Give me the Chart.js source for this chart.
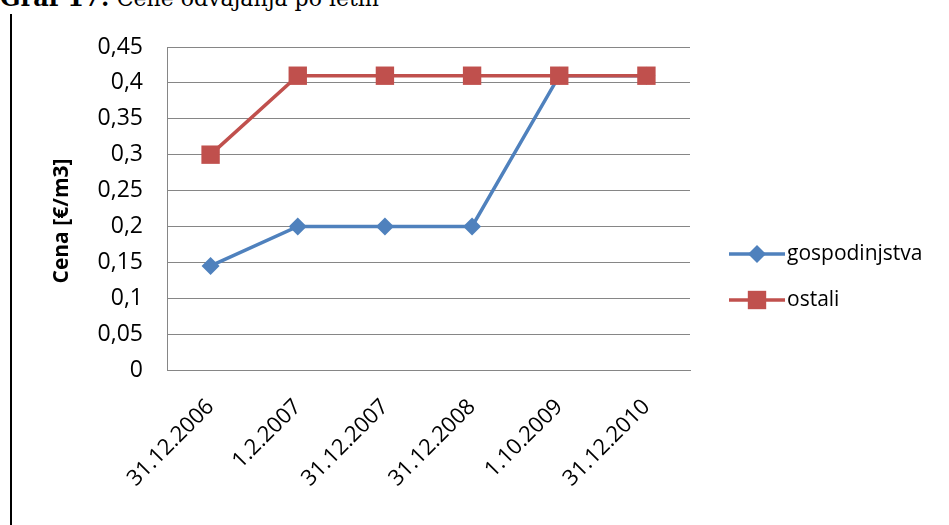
<!DOCTYPE html>
<html>
<head>
<meta charset="utf-8">
<script src="https://cdn.jsdelivr.net/npm/chart.js@4/dist/chart.umd.min.js"></script>
<style>
    html, body { margin: 0; padding: 0; background: #fff; }
    body { width: 949px; height: 525px; position: relative; overflow: hidden; }
    #caption {
        position: absolute; left: 0; top: -17px;
        font-family: "DejaVu Serif", "Liberation Serif", serif;
        font-size: 22px; color: #000; white-space: nowrap;
    }
    #caption b { font-size: 24px; }
    #frame { position: absolute; left: 10px; top: 14px; width: 2px; height: 511px; background: #000; }
    #wrap { position: absolute; left: 0; top: 0; width: 949px; height: 525px; }
</style>
</head>
<body>
<div id="caption"><b>Graf 17:</b> Cene odvajanja po letih</div>
<div id="frame"></div>
<div id="wrap"><canvas id="priceChart"></canvas></div>
<script>
// data
const categories = ['31.12.2006', '1.2.2007', '31.12.2007', '31.12.2008', '1.10.2009', '31.12.2010'];
const gospodinjstva = [0.145, 0.2, 0.2, 0.2, 0.41, 0.41];
const ostali = [0.3, 0.41, 0.41, 0.41, 0.41, 0.41];
const seriesNames = ['gospodinjstva', 'ostali'];
const yTicks = [0, 0.05, 0.1, 0.15, 0.2, 0.25, 0.3, 0.35, 0.4, 0.45];
const yTitle = 'Cena [€/m3]';

const BLUE = '#4F81BD';
const RED = '#C0504D';
const GRID = '#868686';
const FONT = '"Open Sans", sans-serif';

// legend drawn by hand: line with marker in the middle, like the office chart
// the axis title is drawn here too, it sits a bit below the plot's middle
const sideLegend = {
    id: 'sideLegend',
    afterDraw(chart) {
        const ctx = chart.ctx;
        const rows = [254, 300];
        chart.data.datasets.forEach((ds, i) => {
            const y = rows[i];
            ctx.save();
            ctx.strokeStyle = ds.borderColor;
            ctx.lineWidth = 3.5;
            ctx.beginPath();
            ctx.moveTo(729, y);
            ctx.lineTo(785, y);
            ctx.stroke();
            ctx.fillStyle = ds.backgroundColor;
            Chart.helpers.drawPoint(ctx, {
                pointStyle: ds.pointStyle,
                radius: ds.pointRadius,
                borderWidth: 0
            }, 757, y);
            ctx.fillStyle = '#000';
            ctx.font = '21px ' + FONT;
            ctx.textAlign = 'left';
            ctx.textBaseline = 'middle';
            ctx.fillText(ds.label, 787, y);
            ctx.restore();
        });

        ctx.save();
        ctx.translate(62, 221);
        ctx.rotate(-Math.PI / 2);
        ctx.fillStyle = '#000';
        ctx.font = 'bold 21px ' + FONT;
        ctx.textAlign = 'center';
        ctx.textBaseline = 'middle';
        ctx.fillText(yTitle, 0, 0);
        ctx.restore();
    }
};

const ctxEl = document.getElementById('priceChart');
if (ctxEl) {
    new Chart(ctxEl.getContext('2d'), {
        type: 'line',
        data: {
            labels: categories,
            datasets: [{
                label: seriesNames[0],
                data: gospodinjstva,
                borderColor: BLUE,
                backgroundColor: BLUE,
                borderWidth: 3.5,
                pointStyle: 'rectRot',
                pointRadius: 9,
                pointBorderWidth: 0,
                tension: 0,
                order: 2
            }, {
                label: seriesNames[1],
                data: ostali,
                borderColor: RED,
                backgroundColor: RED,
                borderWidth: 3.5,
                pointStyle: 'rect',
                pointRadius: 13,
                pointBorderWidth: 0,
                tension: 0,
                order: 1
            }]
        },
        options: {
            responsive: true,
            maintainAspectRatio: false,
            animation: false,
            layout: { padding: { left: 0, right: 259, top: 47, bottom: 0 } },
            scales: {
                x: {
                    offset: true,
                    grid: { display: false },
                    border: { display: true, color: GRID, width: 1 },
                    ticks: {
                        autoSkip: false,
                        maxRotation: 45,
                        minRotation: 45,
                        padding: 16,
                        color: '#000',
                        font: { family: FONT, size: 22 }
                    },
                    afterFit(scale) { scale.height = 155; }
                },
                y: {
                    min: 0,
                    max: 0.45,
                    afterBuildTicks(scale) { scale.ticks = yTicks.map(v => ({ value: v })); },
                    grid: { color: GRID, lineWidth: 1, drawTicks: false },
                    border: { display: true, color: GRID, width: 1 },
                    ticks: {
                        padding: 24,
                        color: '#000',
                        font: { family: FONT, size: 23 },
                        callback: v => String(Number(v.toFixed(2))).replace('.', ',')
                    },
                    afterFit(scale) { scale.width = 167; }
                }
            },
            plugins: {
                legend: { display: false },
                tooltip: { enabled: false }
            }
        },
        plugins: [sideLegend]
    });
}
</script>
</body>
</html>
